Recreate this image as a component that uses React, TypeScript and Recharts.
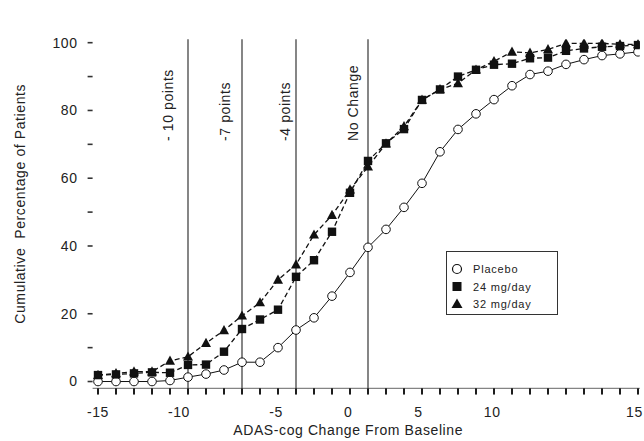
import React from 'react';
import { ComposedChart, Line, XAxis, YAxis, ReferenceLine, Legend, Label } from 'recharts';

// ADAS-cog change from baseline (x) and cumulative percentage of patients (y)
const changeFromBaseline = [-15, -14, -13, -12, -11, -10, -9, -8, -7, -6, -5, -4, -3, -2, -1, 0, 1, 2, 3, 4, 5, 6, 7, 8, 9, 10, 11, 12, 13, 14, 15];
const placebo = [0, 0, 0, 0, 0.3, 1.3, 2.2, 3.4, 5.7, 5.7, 10.0, 15.2, 18.8, 25.2, 32.2, 39.6, 44.9, 51.4, 58.5, 67.8, 74.4, 79.0, 83.2, 87.3, 90.6, 91.6, 93.6, 95.0, 96.2, 96.7, 97.3];
const mg24 = [1.9, 2.1, 2.4, 2.7, 2.6, 4.9, 5.0, 8.8, 15.5, 18.3, 21.2, 30.9, 35.8, 44.2, 55.7, 65.1, 70.3, 74.5, 83.1, 86.2, 90.0, 92.0, 93.5, 93.8, 95.4, 95.6, 97.6, 98.3, 98.8, 99.0, 99.3];
const mg32 = [1.9, 2.4, 2.9, 2.9, 6.1, 7.3, 11.3, 15.1, 19.4, 23.3, 30.0, 34.5, 43.3, 49.1, 56.6, 63.4, 70.2, 75.3, 83.1, 86.2, 88.0, 92.0, 94.5, 97.3, 97.0, 98.0, 99.8, 99.8, 99.8, 99.5, 99.5];

const seriesKeys = ['placebo', 'mg24', 'mg32'];
const seriesNames = { placebo: 'Placebo', mg24: '24 mg/day', mg32: '32 mg/day' };

const yTicks = [0, 10, 20, 40, 50, 60, 70, 80, 90, 100];
const xLabelTickPositions = [-15, -10.5, -5.1, -1.1, 2.8, 6.9, 14.8];
const xLabelTickText = ['-15', '-10', '-5', '0', '5', '10', '15'];
const xAllTicks = Array.from(new Set([...changeFromBaseline, ...xLabelTickPositions])).sort((a, b) => a - b);

const yDomainMin = -2;
const minorTickBottom = -3.8;

const thresholds = [-10, -7, -4, 0];
const thresholdLabels = ['- 10 points', '-7 points', '-4 points', 'No Change'];
const thresholdLabelShift = [-15, -12.5, -6.5, -10.5];

const data = changeFromBaseline.map((x, i) => ({
  x,
  placebo: placebo[i],
  mg24: mg24[i],
  mg32: mg32[i],
}));

const FONT = 'Liberation Sans, Arial, sans-serif';
const TEXT = '#222';
const INK = '#111';

const CircleDot = (p: any) => {
  if (p.cx == null || p.cy == null) return null;
  return <circle key={`c${p.index}`} cx={p.cx} cy={p.cy} r={4.3} fill="#fff" stroke={INK} strokeWidth={1} />;
};
const SquareDot = (p: any) => {
  if (p.cx == null || p.cy == null) return null;
  return <rect key={`s${p.index}`} x={p.cx - 4.2} y={p.cy - 4.2} width={8.4} height={8.4} fill={INK} />;
};
const TriangleDot = (p: any) => {
  if (p.cx == null || p.cy == null) return null;
  const { cx, cy } = p;
  return <polygon key={`t${p.index}`} points={`${cx},${cy - 5.4} ${cx - 5},${cy + 3.8} ${cx + 5},${cy + 3.8}`} fill={INK} />;
};

// x axis tick: minor mark at every integer, text where the reference prints a label
const XAxisTick = (props: any) => {
  const { x, y, payload } = props;
  if (x == null || y == null || !payload) return null;
  const v = Number(payload.value);
  const isMinor = changeFromBaseline.indexOf(v) >= 0;
  const li = xLabelTickPositions.indexOf(v);
  return (
    <g>
      {isMinor && <rect x={x - 0.8} y={y} width={1.6} height={6} fill="#111" />}
      {li >= 0 && (
        <text x={x} y={y + 28.7} textAnchor="middle" fontSize={14} fontFamily={FONT} fill={TEXT} letterSpacing={0.6}>
          {xLabelTickText[li]}
        </text>
      )}
    </g>
  );
};

const LegendBox = (props: any) => {
  const payload = [...(props.payload || [])].sort(
    (a: any, b: any) => seriesKeys.indexOf(a.dataKey) - seriesKeys.indexOf(b.dataKey)
  );
  return (
    <div style={{ width: 112, height: 64, border: '1px solid #333', background: '#fff', boxSizing: 'border-box' }}>
      <svg width={110} height={62}>
        {payload.map((item: any, i: number) => {
          const cy = 17 + i * 17.5;
          const cx = 10;
          let icon;
          if (item.dataKey === 'placebo') icon = <circle cx={cx} cy={cy} r={4.5} fill="#fff" stroke={INK} strokeWidth={1.2} />;
          else if (item.dataKey === 'mg24') icon = <rect x={cx - 4.5} y={cy - 4.5} width={9} height={9} fill={INK} />;
          else icon = <polygon points={`${cx},${cy - 5.5} ${cx - 5.5},${cy + 4} ${cx + 5.5},${cy + 4}`} fill={INK} />;
          return (
            <g key={item.dataKey}>
              {icon}
              <text x={26} y={cy + 4} fontSize={11} fontFamily={FONT} fill={TEXT} letterSpacing={0.8}>{item.value}</text>
            </g>
          );
        })}
      </svg>
    </div>
  );
};

const thresholdLabel = (i: number) => (props: any) => {
  const vb = props.viewBox || {};
  const x = vb.x + thresholdLabelShift[i];
  const y = vb.y + 101.7;
  return (
    <text x={x} y={y} transform={`rotate(-90 ${x} ${y})`} fontSize={14} fontFamily={FONT} fill={TEXT} letterSpacing={0.6} textAnchor="start" style={{ whiteSpace: 'pre' }}>
      {thresholdLabels[i]}
    </text>
  );
};

const YTitle = (props: any) => {
  const vb = props.viewBox || {};
  const x = vb.x + 25;
  const y = vb.y + vb.height / 2 - 10;
  return (
    <text x={x} y={y} transform={`rotate(-90 ${x} ${y})`} fontSize={14} fontFamily={FONT} fill={TEXT} letterSpacing={0.6} textAnchor="middle" style={{ whiteSpace: 'pre' }}>
      Cumulative  Percentage of Patients
    </text>
  );
};

const XTitle = (props: any) => {
  const vb = props.viewBox || {};
  return (
    <text x={vb.x + vb.width / 2 - 18} y={vb.y + 46.7} fontSize={14} fontFamily={FONT} fill={TEXT} letterSpacing={0.6} textAnchor="middle">
      ADAS-cog Change From Baseline
    </text>
  );
};

export default function App() {
  return (
    <div style={{ position: 'absolute', left: 0, top: 0, width: 644, height: 441, background: '#fff' }}>
      <ComposedChart width={644} height={441} data={data} margin={{ top: 39.3, right: 4.2, bottom: 0, left: 0 }}>
        <XAxis
          dataKey="x"
          type="number"
          domain={[-15.3, 15.1]}
          ticks={xAllTicks}
          interval={0}
          tick={XAxisTick}
          tickSize={0}
          tickMargin={0}
          height={52.7}
          axisLine={{ stroke: '#666', strokeWidth: 1 }}
          tickLine={false}
          allowDataOverflow
        >
          <Label content={XTitle} />
        </XAxis>
        <YAxis
          type="number"
          domain={[yDomainMin, 101]}
          ticks={yTicks}
          interval={0}
          tickFormatter={(v: number) => (v % 20 === 0 ? String(v) : '')}
          axisLine={false}
          tickSize={5}
          tickMargin={10}
          width={92.6}
          tickLine={{ stroke: '#333', strokeWidth: 1.6 }}
          tick={{ fontSize: 14, fontFamily: FONT, fill: TEXT, letterSpacing: 0.6 }}
          allowDataOverflow
        >
          <Label content={YTitle} />
        </YAxis>
        {changeFromBaseline.map((v) => (
          <ReferenceLine
            key={`m${v}`}
            segment={[{ x: v, y: yDomainMin }, { x: v, y: minorTickBottom }]}
            ifOverflow="visible"
            stroke="#111"
            strokeWidth={1.5}
          />
        ))}
        {thresholds.map((t, i) => (
          <ReferenceLine key={t} x={t} stroke="#444" strokeWidth={1.3} label={thresholdLabel(i)} />
        ))}
        <Line
          dataKey="placebo"
          name={seriesNames.placebo}
          stroke={INK}
          strokeWidth={1}
          dot={CircleDot}
          activeDot={false}
          isAnimationActive={false}
        />
        <Line
          dataKey="mg24"
          name={seriesNames.mg24}
          stroke={INK}
          strokeWidth={1.3}
          strokeDasharray="5 3"
          dot={SquareDot}
          activeDot={false}
          isAnimationActive={false}
        />
        <Line
          dataKey="mg32"
          name={seriesNames.mg32}
          stroke={INK}
          strokeWidth={1.3}
          strokeDasharray="5 3"
          dot={TriangleDot}
          activeDot={false}
          isAnimationActive={false}
        />
        <Legend
          layout="vertical"
          align="center"
          verticalAlign="middle"
          width={112}
          height={64}
          wrapperStyle={{ left: 446, top: 251, width: 112, height: 64 }}
          content={LegendBox}
        />
      </ComposedChart>
    </div>
  );
}
